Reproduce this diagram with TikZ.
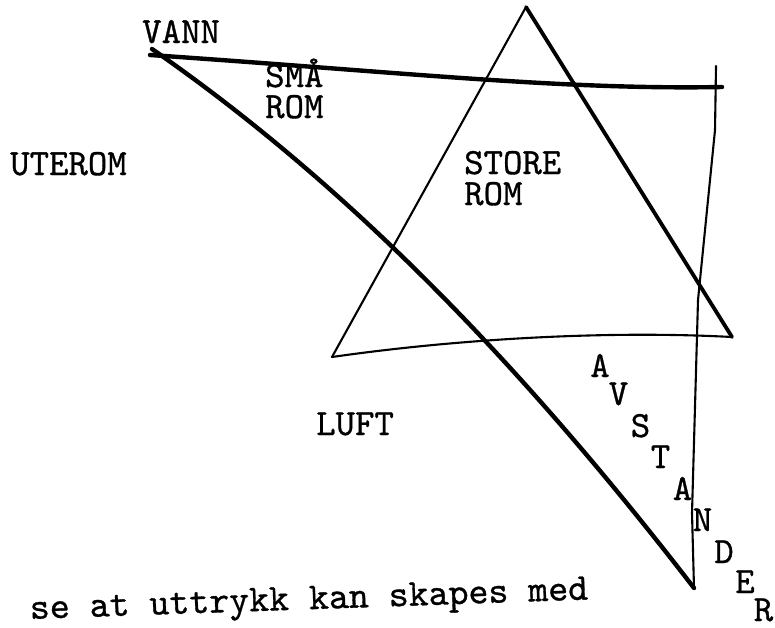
\documentclass[tikz,border=0pt]{standalone}
\usepackage{fontspec}
\newfontfamily\tw[FakeBold=0.8]{lmmono10-regular.otf}
\begin{document}
\begin{tikzpicture}[x=1pt,y=-1pt,
  thickline/.style={line width=4.4pt,line cap=round,line join=round},
  thinline/.style={line width=2.1pt,line cap=round,line join=round},
  lbl/.style={inner sep=0pt,anchor=base west,font=\fontsize{37}{40}\selectfont\tw},
  two/.style={inner sep=0pt,anchor=base west,align=left,font=\fontsize{37}{31}\selectfont\tw},
  ltr/.style={inner sep=0pt,anchor=base,font=\fontsize{37}{40}\selectfont\tw}]
\useasboundingbox (0,0) rectangle (775,627);
% vertices
\coordinate (tl) at (152,49);
\coordinate (hl) at (150,55);
\coordinate (tr) at (722,87);
\coordinate (bot) at (694,588);
\coordinate (vt) at (716,66);
\coordinate (apex) at (526,7);
\coordinate (bl) at (332,357);
\coordinate (br) at (732,337);
% big thick triangle
\draw[thickline] (hl) .. controls (400,72) and (560,90) .. (tr);
\draw[thickline] (tl) .. controls (338,178) and (512,352) .. (bot);
\draw[thinline] (vt) -- (715,130) -- (698,300) -- (692,513) -- (bot);
% upward triangle
\draw[thinline] (apex) -- (bl);
\draw[line width=3.8pt,line cap=round,line join=round] (apex) -- (br);
\draw[thinline] (bl) .. controls (450,340) and (600,330) .. (br);
% labels
\node[lbl] (vann) at (142,43) {VANN};
\node[two] (smarom) at (265,118) {SMÅ\\ROM};
\node[lbl] (uterom) at (10,175) {UTEROM};
\node[two] (storerom) at (464,205) {STORE\\ROM};
\node[lbl] (luft) at (316,435) {LUFT};
\node[ltr] (a1) at (600,377) {A};
\node[ltr] (v1) at (618.5,405) {V};
\node[ltr] (s1) at (640.5,437) {S};
\node[ltr] (t1) at (660.5,468) {T};
\node[ltr] (a2) at (682.5,500) {A};
\node[ltr] (n1) at (702.5,531) {N};
\node[ltr] (d1) at (724,563) {D};
\node[ltr] (e1) at (745,593) {E};
\node[ltr] (r1) at (763.5,621) {R};
\node[inner sep=0pt,anchor=base west,rotate=2,font=\fontsize{38}{40}\selectfont\tw] (bottom) at (30,619) {se at uttrykk kan skapes med};
\end{tikzpicture}
\end{document}
